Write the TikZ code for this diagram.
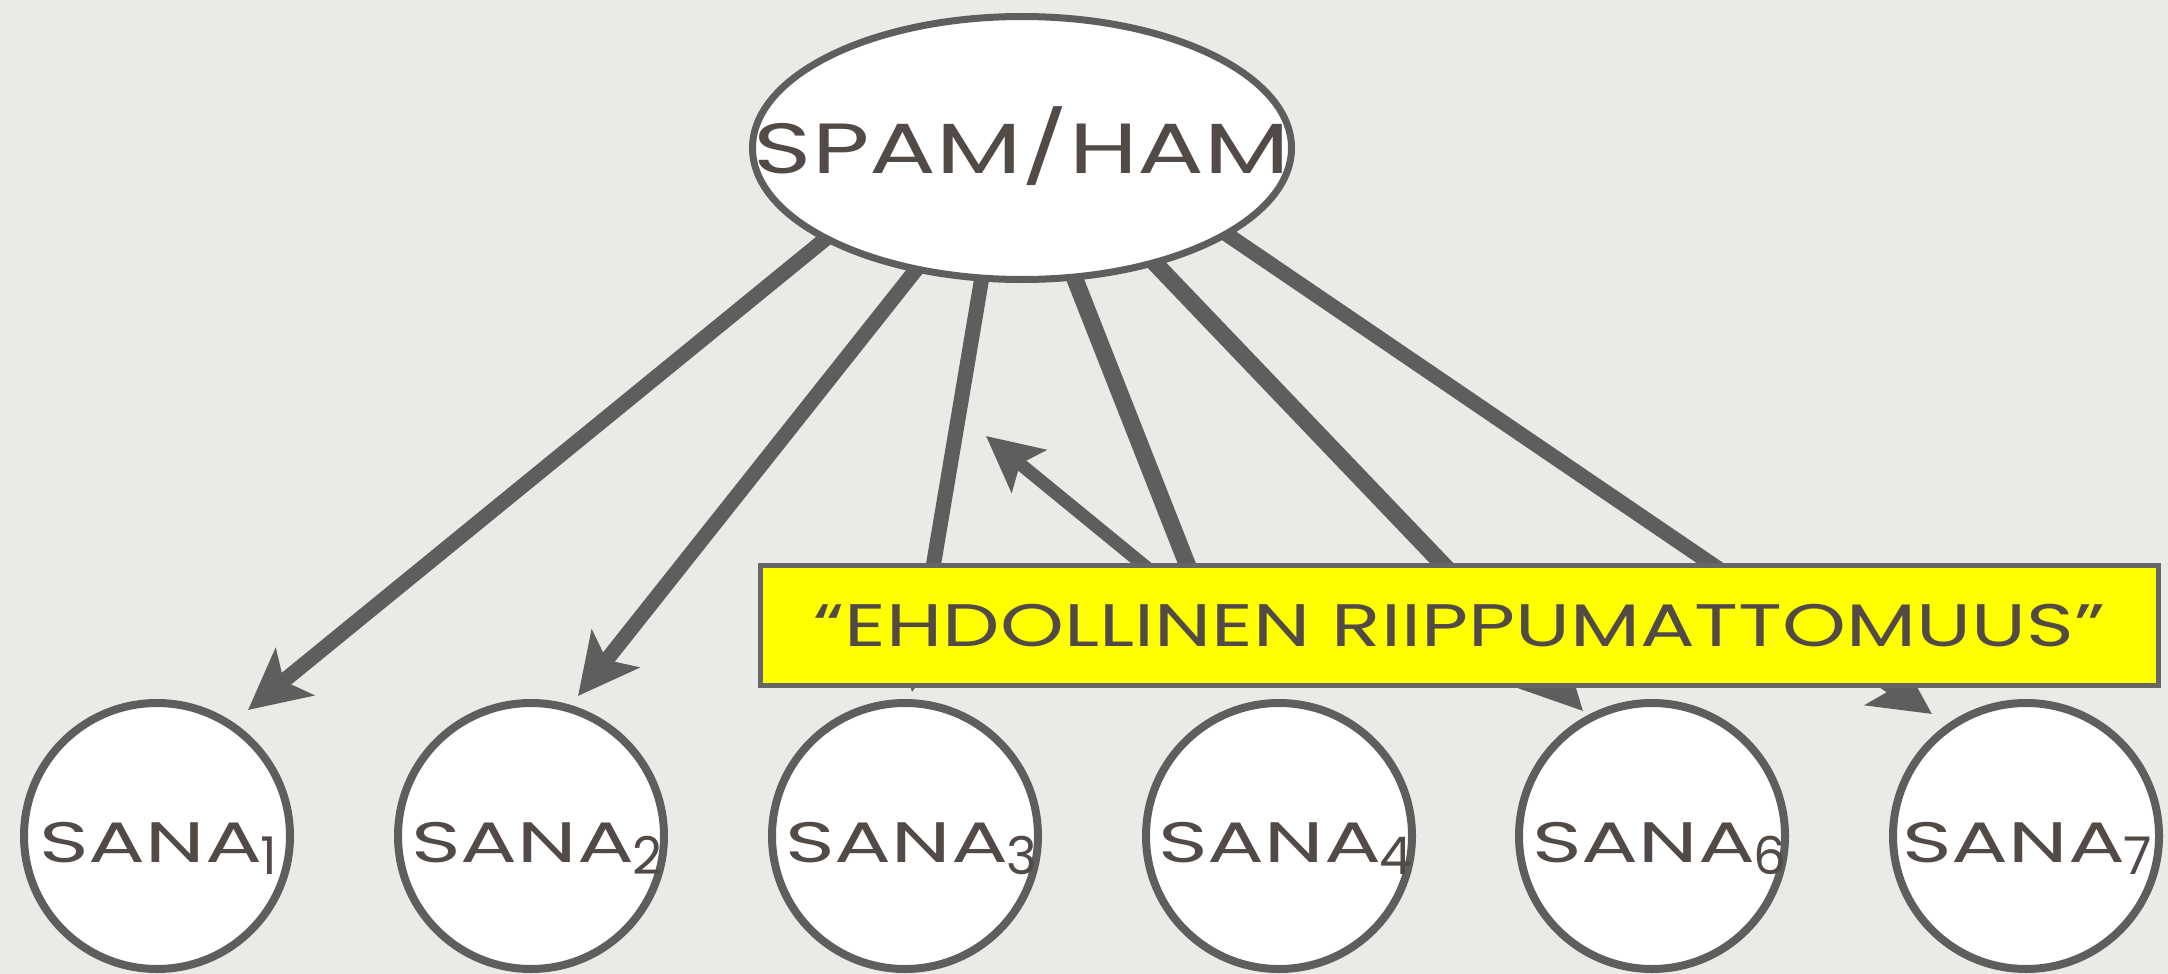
\documentclass[tikz,border=0pt]{standalone}
\usepackage{fontspec}
\setmainfont{Poppins}
\usepackage{graphicx}
\usetikzlibrary{arrows.meta,shapes.geometric}
\definecolor{bgcol}{HTML}{E9EBE7}
\definecolor{edgecol}{HTML}{5E5E5E}
\definecolor{inkcol}{HTML}{524A46}
\definecolor{notefill}{HTML}{FFFF00}
\definecolor{noteborder}{HTML}{666666}
\pgfdeclarelayer{backdrop}
\pgfdeclarelayer{connectors}
\pgfsetlayers{backdrop,connectors,main}
\newcommand{\sanatext}[1]{\resizebox{223pt}{\height}{\fontsize{57}{57}\selectfont SANA}\kern-2pt\raisebox{-12pt}{\fontsize{52}{52}\selectfont #1}}
\begin{document}
\begin{tikzpicture}[x=1pt,y=-1pt,
  link/.style={draw=edgecol, line width=15pt, shorten <=-14pt,
    -{Stealth[length=60pt,width=60pt,inset=14pt]}},
  thicklink/.style={link, line width=17pt},
  backlink/.style={draw=edgecol, line width=13pt,
    -{Stealth[length=55pt,width=54pt,inset=11pt]}},
  wordnode/.style={circle, draw=edgecol, line width=8pt, fill=white,
    minimum size=266pt, inner sep=0pt},
  rootnode/.style={ellipse, draw=edgecol, line width=7pt, fill=white,
    minimum width=539pt, minimum height=263pt, inner sep=0pt},
  notebox/.style={rectangle, draw=noteborder, line width=5pt, fill=notefill,
    minimum width=1398pt, minimum height=120pt, inner sep=0pt, text=inkcol},
  labeltext/.style={inner sep=0pt, text=inkcol}]
\useasboundingbox (0,0) rectangle (2168,974);
\begin{pgfonlayer}{backdrop}
\fill[bgcol] (0,0) rectangle (2168,974);
\end{pgfonlayer}

% nodes
\node[rootnode] (root) at (1022,148) {};
\node[labeltext, anchor=base] (rootlabel) at (1022,173)
  {\resizebox{536pt}{\height}{\fontsize{71}{71}\selectfont SPAM/HAM}};

\node[wordnode] (w1) at (157,836) {};
\node[wordnode] (w2) at (531,836) {};
\node[wordnode] (w3) at (905,836) {};
\node[wordnode] (w4) at (1279,836) {};
\node[wordnode] (w6) at (1652,836) {};
\node[wordnode] (w7) at (2026,836) {};

\node[labeltext, anchor=base west] (t1) at (39,862) {\sanatext{1}};
\node[labeltext, anchor=base west] (t2) at (411,862) {\sanatext{2}};
\node[labeltext, anchor=base west] (t3) at (785,862) {\sanatext{3}};
\node[labeltext, anchor=base west] (t4) at (1158,862) {\sanatext{4}};
\node[labeltext, anchor=base west] (t6) at (1532,862) {\sanatext{6}};
\node[labeltext, anchor=base west] (t7) at (1902,862) {\sanatext{7}};

\node[notebox] (note) at (1459.5,625.5)
  {\resizebox{1291pt}{\height}{\fontsize{60}{60}\selectfont “EHDOLLINEN RIIPPUMATTOMUUS”}};

% connector ends
\coordinate (e1) at (248,710);
\coordinate (e2) at (578,696);
\coordinate (e3) at (912,692);
\coordinate (e4) at (1224,658);
\coordinate (e6) at (1583,711);
\coordinate (e7) at (1932,714);
\coordinate (b0) at (1190,603);
\coordinate (b1) at (986,436);

\begin{pgfonlayer}{connectors}
\draw[link] (root.205.83) -- (e1);
\draw[link] (root.229.1) -- (e2);
\draw[link] (root.253.6) -- (e3);
\draw[thicklink] (root.292.3) -- (e4);
\draw[thicklink] (root.319.45) -- (e6);
\draw[link] (root.337.9) -- (e7);
\draw[backlink] (b0) -- (b1);
\end{pgfonlayer}
\end{tikzpicture}
\end{document}
